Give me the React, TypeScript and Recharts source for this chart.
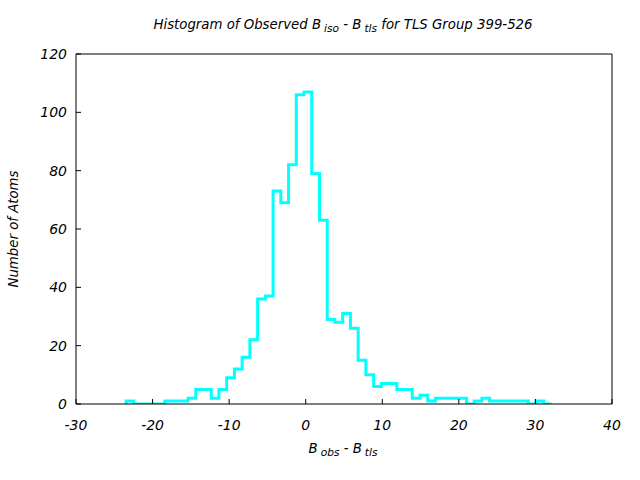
import React from 'react';
import { LineChart, Line, XAxis, YAxis } from 'recharts';

// left edges of the histogram bins (last value closes the final bin)
const binEdges = [
  -23.45, -22.44, -21.43, -20.42, -19.41, -18.4, -17.39, -16.38, -15.37, -14.36,
  -13.35, -12.34, -11.33, -10.32, -9.31, -8.3, -7.29, -6.28, -5.27, -4.26,
  -3.25, -2.24, -1.23, -0.22, 0.79, 1.8, 2.81, 3.82, 4.83, 5.84,
  6.85, 7.86, 8.87, 9.88, 10.89, 11.9, 12.91, 13.92, 14.93, 15.94,
  16.95, 17.96, 18.97, 19.98, 20.99, 22.0, 23.01, 24.02, 25.03, 26.04,
  27.05, 28.06, 29.07, 30.08, 31.09, 32.1,
];

const atomCounts = [
  1, 0, 0, 0, 0, 1, 1, 1, 2, 5,
  5, 2, 5, 9, 12, 16, 22, 36, 37, 73,
  69, 82, 106, 107, 79, 63, 29, 28, 31, 26,
  15, 10, 6, 7, 7, 5, 5, 2, 3, 1,
  2, 2, 2, 2, 0, 1, 2, 1, 1, 1,
  1, 1, 0, 1, 0,
];

const xTicks = [-30, -20, -10, 0, 10, 20, 30, 40];
const yTicks = [0, 20, 40, 60, 80, 100, 120];

const FONT = '"DejaVu Sans", sans-serif';

const data = [
  { x: binEdges[0], n: 0 },
  ...binEdges.map((x, i) => ({ x, n: i < atomCounts.length ? atomCounts[i] : 0 })),
];

const tickStyle = { fill: '#000', fontSize: 14, fontStyle: 'italic', fontFamily: FONT };
const subStyle: React.CSSProperties = { fontSize: '0.8em', verticalAlign: '-0.25em', marginLeft: 3 };

export default function App() {
  return (
    <div style={{ position: 'absolute', left: 0, top: 0, width: 640, height: 480, background: '#fff', fontFamily: FONT, fontStyle: 'italic', color: '#000' }}>
      <div style={{ position: 'absolute', left: 93, top: 17, width: 500, textAlign: 'center', fontSize: 13.3, lineHeight: '16px', whiteSpace: 'nowrap' }}>
        Histogram of Observed B<span style={subStyle}>iso</span> - B<span style={subStyle}>tls</span> for TLS Group 399-526
      </div>
      <div style={{ position: 'absolute', left: 193, top: 441, width: 300, textAlign: 'center', fontSize: 13.3, lineHeight: '16px', whiteSpace: 'nowrap' }}>
        B<span style={subStyle}>obs</span> - B<span style={subStyle}>tls</span>
      </div>
      <div style={{ position: 'absolute', left: 14 - 100, top: 229 - 8, width: 200, textAlign: 'center', fontSize: 13.3, lineHeight: '16px', transform: 'rotate(-90deg)', whiteSpace: 'nowrap' }}>
        Number of Atoms
      </div>
      <LineChart width={640} height={480} data={data} margin={{ top: 44, right: 18, bottom: 46, left: 36 }}>
        <XAxis xAxisId="b" dataKey="x" type="number" domain={[-30, 40]} ticks={xTicks} allowDataOverflow
          orientation="bottom" height={30} tickSize={-5} tickMargin={21} stroke="#000" tick={tickStyle} />
        <XAxis xAxisId="t" dataKey="x" type="number" domain={[-30, 40]} ticks={xTicks} allowDataOverflow
          orientation="top" height={10} tickSize={-5} stroke="#000" tick={false} />
        <YAxis yAxisId="l" type="number" domain={[0, 120]} ticks={yTicks} allowDataOverflow
          orientation="left" width={40} tickSize={-5} tickMargin={14} stroke="#000" tick={tickStyle} />
        <YAxis yAxisId="r" type="number" domain={[0, 120]} ticks={yTicks} allowDataOverflow
          orientation="right" width={10} tickSize={-5} stroke="#000" tick={false} />
        <Line xAxisId="b" yAxisId="l" type="stepAfter" dataKey="n" stroke="#00ffff" strokeWidth={3}
          dot={false} activeDot={false} isAnimationActive={false} />
      </LineChart>
    </div>
  );
}
